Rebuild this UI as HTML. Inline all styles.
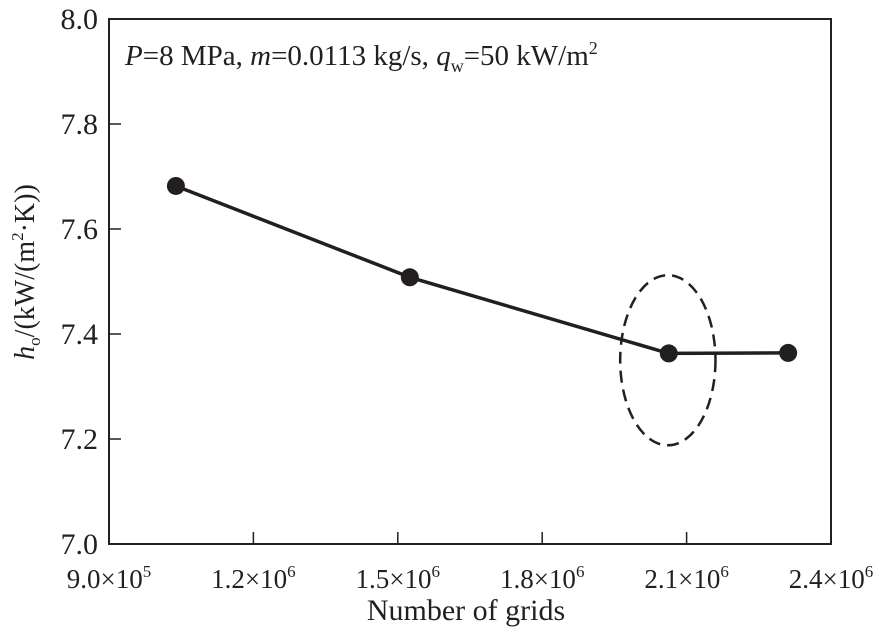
<!DOCTYPE html>
<html><head><meta charset="utf-8"><style>
body{margin:0;background:#fff;}
svg text{font-family:"Liberation Serif",serif;fill:#231f20;}
</style></head><body>
<svg id="chart" width="880" height="636" viewBox="0 0 880 636">
<g id="axes"></g>
<g id="marks"></g>
</svg>
<script>
const xTicks=[900000,1200000,1500000,1800000,2100000,2400000];
const xTickMant=["9.0","1.2","1.5","1.8","2.1","2.4"];
const xTickExp=["5","6","6","6","6","6"];
const yTicks=[7.0,7.2,7.4,7.6,7.8,8.0];
const yTickLabels=["7.0","7.2","7.4","7.6","7.8","8.0"];
const gridCounts=[1039000,1525000,2063000,2311000];
const hValues=[7.682,7.508,7.363,7.364];
const ellipseCenter=[2061000,7.35];
const ellipseRadii=[99000,0.162];

const L=109,R=831,T=19,B=544;
const NS="http://www.w3.org/2000/svg";
function xs(v){return L+(v-900000)/(2400000-900000)*(R-L);}
function ys(v){return B-(v-7.0)/(8.0-7.0)*(B-T);}
function mk(tag,attrs,parent){const e=document.createElementNS(NS,tag);for(const k in attrs)e.setAttribute(k,attrs[k]);parent.appendChild(e);return e;}
const axes=document.getElementById('axes'),marks=document.getElementById('marks');

const frame=mk('rect',{x:L,y:T,width:R-L,height:B-T,fill:'none',stroke:'#231f20','stroke-width':2},axes);



xTicks.forEach((v,i)=>{
  const x=xs(v);
  if(i>0&&i<xTicks.length-1){
    const t=mk('line',{x1:x,y1:B,x2:x,y2:B-12,stroke:'#231f20','stroke-width':1.5},axes);
    
    
  }
  const tx=mk('text',{x:x,y:B+44,'font-size':27,'text-anchor':'middle'},axes);
  
  
  tx.textContent=xTickMant[i]+'×10';
  const sup=mk('tspan',{'font-size':17,dy:-11},tx);
  sup.textContent=xTickExp[i];
});
yTicks.forEach((v,i)=>{
  const y=ys(v);
  if(i>0&&i<yTicks.length-1){
    const t=mk('line',{x1:L,y1:y,x2:L+12,y2:y,stroke:'#231f20','stroke-width':1.5},axes);
    
    
  }
  const tx=mk('text',{x:L-11,y:y+10,'font-size':30,'text-anchor':'end'},axes);
  
  
  tx.textContent=yTickLabels[i];
});

let d='';
gridCounts.forEach((g,i)=>{d+=(i?'L':'M')+xs(g)+' '+ys(hValues[i]);});
const line=mk('path',{d:d,fill:'none',stroke:'#231f20','stroke-width':3.5},marks);


gridCounts.forEach((g,i)=>{
  const c=mk('circle',{cx:xs(g),cy:ys(hValues[i]),r:9,fill:'#231f20'},marks);
  
  
});
const ex=xs(ellipseCenter[0]),ey=ys(ellipseCenter[1]);
const erx=xs(ellipseCenter[0]+ellipseRadii[0])-ex, ery=ey-ys(ellipseCenter[1]+ellipseRadii[1]);
const el=mk('ellipse',{cx:ex,cy:ey,rx:erx,ry:ery,fill:'none',stroke:'#231f20','stroke-width':2.5,'stroke-dasharray':'12 7'},marks);


</script>
<svg style="position:absolute;left:0;top:0" width="880" height="636">
<text x="125" y="65" font-size="29"><tspan font-style="italic">P</tspan>=8 MPa, <tspan font-style="italic">m</tspan>=0.0113 kg/s, <tspan font-style="italic">q</tspan><tspan font-size="18" dy="7">w</tspan><tspan dy="-7">=50 kW/m</tspan><tspan font-size="18" dy="-11">2</tspan></text>
<text x="466" y="620" font-size="30" text-anchor="middle">Number of grids</text>
<text transform="translate(34,272) rotate(-90)" font-size="28" text-anchor="middle"><tspan font-style="italic">h</tspan><tspan font-size="17" dy="6">o</tspan><tspan dy="-6">/(kW/(m</tspan><tspan font-size="17" dy="-11">2</tspan><tspan dy="11">·K))</tspan></text>
</svg>
</body></html>
